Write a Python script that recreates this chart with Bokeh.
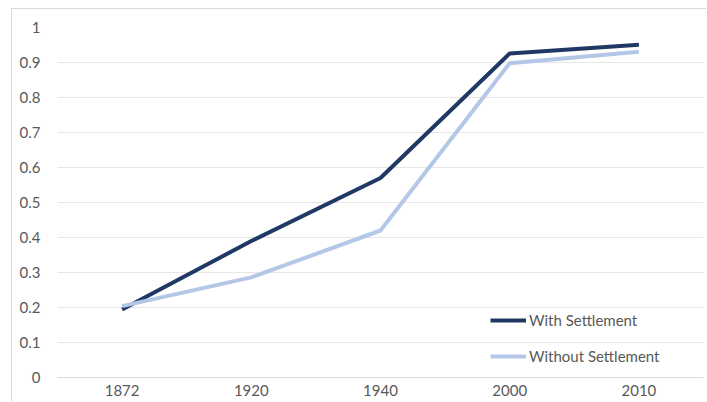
from bokeh.plotting import figure
from bokeh.models import FactorRange, Range1d, FixedTicker, Legend, LegendItem, ColumnDataSource
from bokeh.embed import file_html
from bokeh.resources import INLINE

years = ["1872", "1920", "1940", "2000", "2010"]
with_settlement = [0.194, 0.39, 0.57, 0.926, 0.951]
without_settlement = [0.204, 0.286, 0.42, 0.898, 0.931]
y_ticks = [0, 0.1, 0.2, 0.3, 0.4, 0.5, 0.6, 0.7, 0.8, 0.9, 1.0]
y_tick_labels = ["0", "0.1", "0.2", "0.3", "0.4", "0.5", "0.6", "0.7", "0.8", "0.9", "1"]

FONT = "Lato"
TXT = "#595959"

p = figure(width=695, height=393, x_range=FactorRange(*years, range_padding=0),
           y_range=Range1d(0, 1), output_backend="svg", toolbar_location=None,
           min_border_left=45, min_border_right=4, min_border_top=18, min_border_bottom=25)
p.x_range.range_padding = 0
p.outline_line_color = None
p.styles = {"margin-left": "11px", "margin-top": "8px",
            "border-left": "1px solid #d9d9d9", "border-top": "1px solid #d9d9d9"}

src = ColumnDataSource(dict(x=years, w=with_settlement, wo=without_settlement))
r1 = p.line("x", "w", source=src, line_color="#203864", line_width=4)
r2 = p.line("x", "wo", source=src, line_color="#b4c7e7", line_width=4)

p.xgrid.grid_line_color = None
p.ygrid.grid_line_color = "#e6e6e6"
p.ygrid.grid_line_width = 1

p.yaxis.ticker = FixedTicker(ticks=y_ticks)
p.yaxis.major_label_overrides = {t: l for t, l in zip(y_ticks, y_tick_labels)}
for ax in (p.xaxis, p.yaxis):
    ax.major_tick_line_color = None
    ax.minor_tick_line_color = None
    ax.major_tick_out = 0
    ax.major_tick_in = 0
    ax.minor_tick_out = 0
    ax.major_label_text_font = FONT
    ax.major_label_text_font_size = "15px"
    ax.major_label_text_color = TXT
p.yaxis.axis_line_color = None
p.yaxis.major_label_standoff = 17
p.xaxis.axis_line_color = "#d9d9d9"
p.xaxis.major_label_standoff = 7

legend = Legend(items=[LegendItem(label="With Settlement", renderers=[r1]),
                       LegendItem(label="Without Settlement", renderers=[r2])],
                location=(433, 11), orientation="vertical",
                glyph_width=36, label_standoff=3, spacing=16, padding=0, margin=0,
                label_text_font=FONT, label_text_font_size="15px", label_text_color=TXT,
                background_fill_alpha=0, border_line_color=None, label_height=20, glyph_height=20)
p.add_layout(legend)

open("out.html", "w").write(file_html(p, INLINE))
